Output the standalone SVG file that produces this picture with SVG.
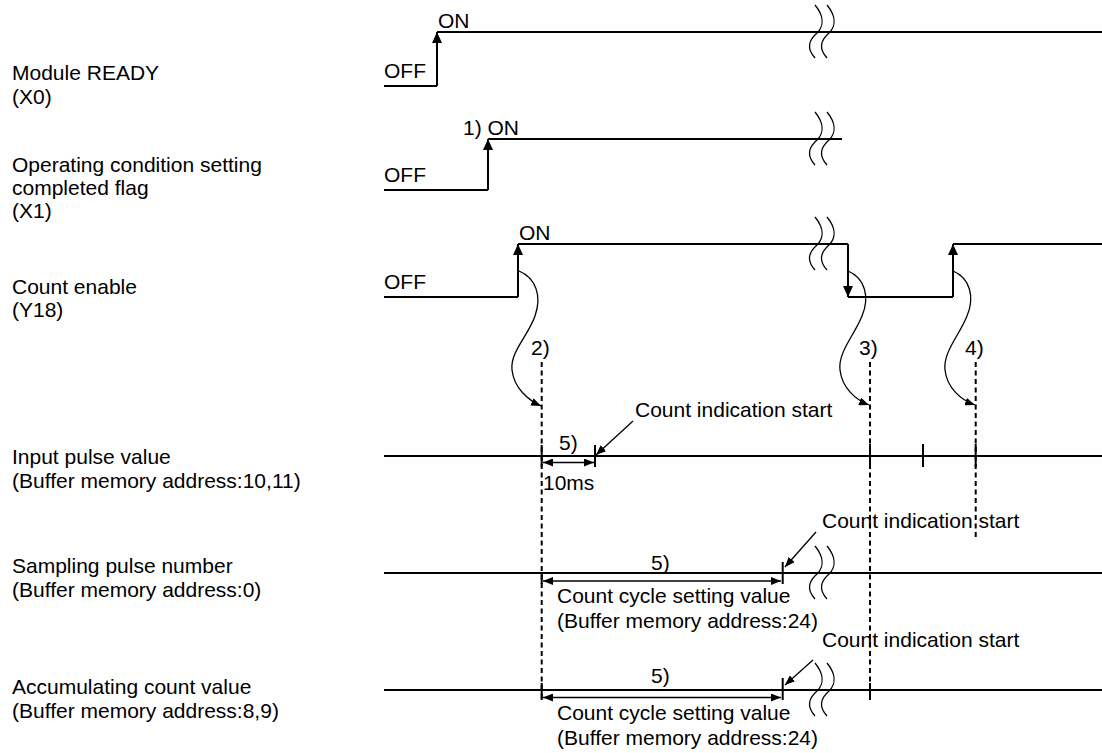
<svg xmlns="http://www.w3.org/2000/svg" xmlns:xlink="http://www.w3.org/1999/xlink" width="1102" height="753" viewBox="0 0 1102 753">
<style>
text{font-family:"Liberation Sans",Arial,sans-serif;font-size:21px;fill:#000}
.sig{fill:none;stroke:#000;stroke-width:2}
.thin{fill:none;stroke:#000;stroke-width:1.3}
.dash{fill:none;stroke:#000;stroke-width:2;stroke-dasharray:5 3.5}
.brk{fill:none;stroke:#000;stroke-width:1.3}
</style>
<defs>
<marker id="ah" markerUnits="userSpaceOnUse" markerWidth="11" markerHeight="10" refX="11" refY="5" orient="auto"><path d="M0,0 L11,5 L0,10 z" fill="#000"/></marker>
<marker id="as" markerUnits="userSpaceOnUse" markerWidth="10" markerHeight="8" refX="10" refY="4" orient="auto"><path d="M0,0 L10,4 L0,8 z" fill="#000"/></marker>
<marker id="ad" markerUnits="userSpaceOnUse" markerWidth="10" markerHeight="8" refX="10" refY="4" orient="auto-start-reverse"><path d="M0,0 L10,4 L0,8 z" fill="#000"/></marker>
<g id="brk">
<path class="brk" d="M0,-27 C9,-16 9,-6 2,1 C-6,8 -9,16 0,26"/>
<path class="brk" d="M12,-27 C21,-16 21,-6 14,1 C6,8 3,16 12,26"/>
</g>
</defs>

<g id="labels">
<text x="12" y="80">Module READY</text>
<text x="12" y="104">(X0)</text>
<text x="12" y="172">Operating condition setting</text>
<text x="12" y="195">completed flag</text>
<text x="12" y="218">(X1)</text>
<text x="12" y="294">Count enable</text>
<text x="12" y="317">(Y18)</text>
<text x="12" y="464">Input pulse value</text>
<text x="12" y="488">(Buffer memory address:10,11)</text>
<text x="12" y="573">Sampling pulse number</text>
<text x="12" y="597">(Buffer memory address:0)</text>
<text x="12" y="694">Accumulating count value</text>
<text x="12" y="718">(Buffer memory address:8,9)</text>
</g>

<g id="module-ready">
<path class="sig" d="M384,86 H437"/>
<path class="sig" d="M437,86 V32" marker-end="url(#ah)"/>
<path class="sig" d="M437,32 H1102"/>
<use xlink:href="#brk" x="815" y="32"/>
<text x="384" y="78">OFF</text>
<text x="438" y="28">ON</text>
</g>

<g id="operating-flag">
<path class="sig" d="M384,190 H488"/>
<path class="sig" d="M488,190 V139" marker-end="url(#ah)"/>
<path class="sig" d="M488,139 H842"/>
<use xlink:href="#brk" x="815" y="139"/>
<text x="384" y="182">OFF</text>
<text x="463" y="135">1) ON</text>
</g>

<g id="count-enable">
<path class="sig" d="M384,297 H518"/>
<path class="sig" d="M518,297 V244" marker-end="url(#ah)"/>
<path class="sig" d="M518,244 H848"/>
<path class="sig" d="M848,244 V297" marker-end="url(#ah)"/>
<path class="sig" d="M848,297 H953"/>
<path class="sig" d="M953,297 V244" marker-end="url(#ah)"/>
<path class="sig" d="M953,244 H1102"/>
<use xlink:href="#brk" x="815" y="244"/>
<text x="384" y="289">OFF</text>
<text x="519" y="240">ON</text>
</g>

<g id="input-pulse">
<path class="sig" d="M384,456 H1102"/>
<path class="sig" d="M541.7,445 V467 M595,445 V467 M870,444 V467 M923,444 V467 M975.7,444 V467"/>
<path class="thin" d="M543,462.5 H594" marker-start="url(#ad)" marker-end="url(#ad)"/>
<text x="559" y="450">5)</text>
<text x="543" y="490">10ms</text>
<text x="635" y="417">Count indication start</text>
<path class="thin" d="M633,421 L596,455" marker-end="url(#as)"/>
</g>

<g id="sampling-pulse">
<path class="sig" d="M384,573 H1102"/>
<path class="sig" d="M541.7,573 V584 M782.7,562 V584"/>
<use xlink:href="#brk" x="815" y="573"/>
<path class="thin" d="M543,581 H781" marker-start="url(#ad)" marker-end="url(#ad)"/>
<text x="651" y="570">5)</text>
<text x="557" y="603">Count cycle setting value</text>
<text x="557" y="628">(Buffer memory address:24)</text>
<text x="822" y="528">Count indication start</text>
<path class="thin" d="M816,532 L785,567" marker-end="url(#as)"/>
</g>

<g id="accumulating-count">
<path class="sig" d="M384,690 H1102"/>
<path class="sig" d="M541.7,683 V700 M782.7,678 V700 M870,683 V700"/>
<use xlink:href="#brk" x="815" y="690"/>
<path class="thin" d="M543,697.5 H781" marker-start="url(#ad)" marker-end="url(#ad)"/>
<text x="651" y="683">5)</text>
<text x="557" y="720">Count cycle setting value</text>
<text x="557" y="745">(Buffer memory address:24)</text>
<text x="822" y="647">Count indication start</text>
<path class="thin" d="M813,660 L785,685" marker-end="url(#as)"/>
</g>

<g id="connectors">
<path class="dash" d="M541.7,362 V700"/>
<path class="dash" d="M870,362 V700"/>
<path class="dash" d="M975.7,362 V540"/>
<path class="thin" d="M519,271 C536,278 542,296 535,316 C528,336 510,352 512,370 C514,388 528,400 541,406" marker-end="url(#as)"/>
<path class="thin" d="M848,271 C865,278 870,297 862,316 C854,336 838,352 840,370 C842,388 856,400 869,405" marker-end="url(#as)"/>
<path class="thin" d="M953,271 C970,278 975,297 967,316 C959,336 943,352 945,370 C947,388 961,400 975,405" marker-end="url(#as)"/>
<text x="531" y="355">2)</text>
<text x="859" y="355">3)</text>
<text x="965" y="355">4)</text>
</g>
</svg>
